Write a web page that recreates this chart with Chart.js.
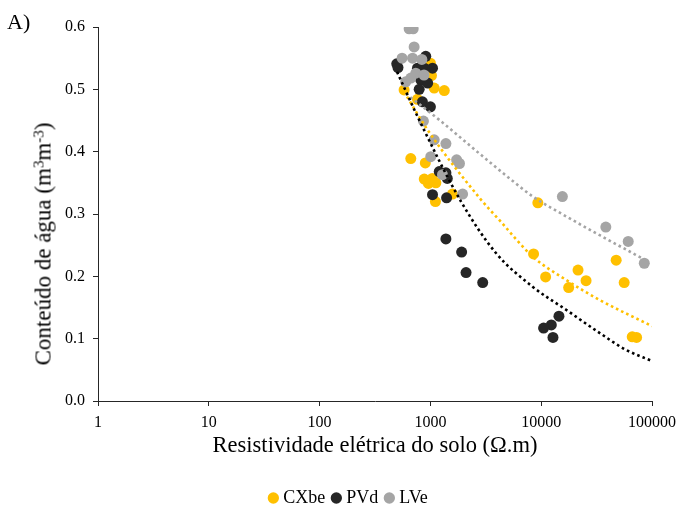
<!DOCTYPE html>
<html>
<head>
<meta charset="utf-8">
<script src="https://cdn.jsdelivr.net/npm/chart.js@4/dist/chart.umd.min.js"></script>
<style>
  html, body { margin: 0; padding: 0; background: #fff; }
  #wrap { position: relative; width: 678px; height: 508px; }
  #panel { position: absolute; left: 7px; top: 11px; font-family: "Liberation Serif", "DejaVu Serif", serif; font-size: 22px; line-height: 1; color: #000; }
  #ytitle { position: absolute; left: 43px; top: 244px; transform: translate(-50%, -50%) rotate(-90deg);
            white-space: nowrap; font-family: "Liberation Serif", "DejaVu Serif", serif; font-size: 23px; line-height: 1; color: #000; }
  #ytitle sup { font-size: 0.65em; vertical-align: 0.45em; line-height: 0; }
</style>
</head>
<body>
<div id="wrap">
  <canvas id="c" width="678" height="508"></canvas>
  <div id="panel">A)</div>
  <div id="ytitle">Conteúdo de água (m<sup>3</sup>m<sup>-3</sup>)</div>
</div>
<script>
// ---- data ----
const seriesNames = ["CXbe", "PVd", "LVe"];
const xTickValues = [1, 10, 100, 1000, 10000, 100000];
const yTickValues = [0.0, 0.1, 0.2, 0.3, 0.4, 0.5, 0.6];

const cxbeX = [579, 1000, 1023, 1082, 1334, 764, 665, 900, 880, 960, 1040, 1120, 1580, 1110, 9330, 8530, 47500, 21500, 10960, 25400, 56100, 17700, 66300, 72600];
const cxbeY = [0.499, 0.542, 0.522, 0.502, 0.498, 0.484, 0.389, 0.382, 0.356, 0.349, 0.357, 0.350, 0.332, 0.320, 0.318, 0.236, 0.226, 0.210, 0.199, 0.193, 0.190, 0.182, 0.103, 0.102];

const pvdX = [497, 510, 908, 764, 880, 1045, 819, 945, 792, 847, 1000, 1202, 1420, 1380, 1045, 1400, 1380, 1914, 2098, 2965, 14460, 12340, 10510, 12770];
const pvdY = [0.541, 0.535, 0.553, 0.534, 0.534, 0.534, 0.515, 0.510, 0.500, 0.480, 0.472, 0.368, 0.357, 0.366, 0.331, 0.326, 0.260, 0.239, 0.206, 0.190, 0.136, 0.122, 0.117, 0.102];

const lveX = [643, 699, 713, 555, 690, 837, 738, 875, 666, 599, 865, 1082, 1380, 1007, 1725, 1830, 1285, 1953, 15530, 38300, 61000, 85200];
const lveY = [0.597, 0.597, 0.568, 0.550, 0.550, 0.548, 0.526, 0.523, 0.518, 0.512, 0.449, 0.419, 0.413, 0.392, 0.387, 0.381, 0.363, 0.332, 0.328, 0.279, 0.256, 0.221];

// trend lines
const trendPvdX = [500, 792, 1890, 3920, 8410, 16870, 33800, 56900, 100000];
const trendPvdY = [0.528, 0.451, 0.320, 0.237, 0.183, 0.146, 0.109, 0.083, 0.064];
const trendCxbeX = [579, 942, 2800, 4200, 8410, 16870, 33800, 100000];
const trendCxbeY = [0.496, 0.435, 0.325, 0.290, 0.2315, 0.194, 0.162, 0.120];
const trendLveX = [600, 1202, 2767, 5357, 8410, 16870, 33800, 92600];
const trendLveY = [0.493, 0.451, 0.397, 0.355, 0.328, 0.296, 0.266, 0.2235];

// ---- styling ----
const colYellow = "#FFC000", colBlack = "#262626", colGray = "#A5A5A5";
const serif = "'Liberation Serif', 'DejaVu Serif', serif";
const zip = (xs, ys) => xs.map((x, i) => ({ x: x, y: ys[i] }));

function pointSet(label, xs, ys, color) {
  return { type: "scatter", label: label, data: zip(xs, ys), backgroundColor: color, borderColor: color,
    pointRadius: 5.5, pointHoverRadius: 5.5, pointBorderWidth: 0, borderWidth: 0, showLine: false };
}
function trendSet(label, xs, ys, color) {
  return { type: "scatter", label: label, data: zip(xs, ys), borderColor: color, backgroundColor: color,
    showLine: true, pointRadius: 0, borderWidth: 2.6, borderDash: [2.6, 3.1], cubicInterpolationMode: "monotone", fill: false };
}

const datasets = [
  trendSet("trend PVd", trendPvdX, trendPvdY, "#000000"),
  trendSet("trend CXbe", trendCxbeX, trendCxbeY, colYellow),
  trendSet("trend LVe", trendLveX, trendLveY, colGray),
  pointSet(seriesNames[2], lveX, lveY, colGray),
  pointSet(seriesNames[1], pvdX, pvdY, colBlack),
  pointSet(seriesNames[0], cxbeX, cxbeY, colYellow)
];

new Chart(document.getElementById("c"), {
  type: "scatter",
  data: { datasets: datasets },
  options: {
    responsive: false,
    animation: false,
    layout: { padding: { left: 22, top: 27, right: 0, bottom: -9 } },
    plugins: {
      tooltip: { enabled: false },
      legend: {
        position: "bottom",
        reverse: true,
        labels: {
          filter: (item) => item.datasetIndex >= 3,
          usePointStyle: true, pointStyle: "circle", boxWidth: 2, boxHeight: 8,
          color: "#000", padding: 10,
          font: { family: serif, size: 18 }
        }
      }
    },
    scales: {
      x: {
        type: "logarithmic", min: 1, max: 100000,
        afterBuildTicks: (s) => { s.ticks = xTickValues.map(v => ({ value: v })); },
        afterFit: (s) => { s.height = 78; s.paddingRight = 26; s.paddingLeft = 0; },
        ticks: { color: "#000", padding: 7, font: { family: serif, size: 16 }, callback: (v) => String(v), autoSkip: false, maxRotation: 0 },
        grid: { drawOnChartArea: false, drawTicks: true, tickLength: 5, color: colBlack },
        border: { color: colBlack, width: 1 },
        title: { display: true, text: "Resistividade elétrica do solo (Ω.m)", color: "#000", font: { family: serif, size: 22.5 }, padding: { top: 0, bottom: 19 } }
      },
      y: {
        type: "linear", min: 0, max: 0.6,
        afterBuildTicks: (s) => { s.ticks = yTickValues.map(v => ({ value: v })); },
        afterFit: (s) => { s.width = 76; },
        ticks: { color: "#000", padding: 8, font: { family: serif, size: 16 }, callback: (v) => Number(v).toFixed(1) },
        grid: { drawOnChartArea: false, drawTicks: true, tickLength: 5, color: colBlack },
        border: { color: colBlack, width: 1 },
        title: { display: false }
      }
    }
  }
});
</script>
</body>
</html>
